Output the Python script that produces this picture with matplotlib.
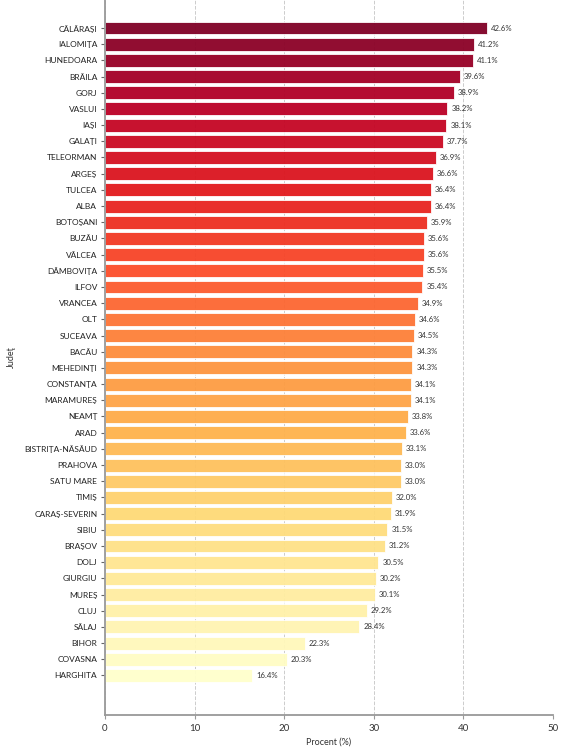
import numpy as np
import matplotlib
matplotlib.use("Agg")
import matplotlib.pyplot as plt

plt.rcParams['font.family'] = ['Lato', 'DejaVu Sans']

judete = [
    "CĂLĂRAŞI", "IALOMIŢA", "HUNEDOARA", "BRĂILA", "GORJ", "VASLUI", "IAŞI",
    "GALAŢI", "TELEORMAN", "ARGEŞ", "TULCEA", "ALBA", "BOTOŞANI", "BUZĂU",
    "VÂLCEA", "DÂMBOVIŢA", "ILFOV", "VRANCEA", "OLT", "SUCEAVA", "BACĂU",
    "MEHEDINŢI", "CONSTANŢA", "MARAMUREŞ", "NEAMŢ", "ARAD", "BISTRIŢA-NĂSĂUD",
    "PRAHOVA", "SATU MARE", "TIMIŞ", "CARAŞ-SEVERIN", "SIBIU", "BRAŞOV",
    "DOLJ", "GIURGIU", "MUREŞ", "CLUJ", "SĂLAJ", "BIHOR", "COVASNA", "HARGHITA",
]
procente = [
    42.6, 41.2, 41.1, 39.6, 38.9, 38.2, 38.1, 37.7, 36.9, 36.6, 36.4, 36.4,
    35.9, 35.6, 35.6, 35.5, 35.4, 34.9, 34.6, 34.5, 34.3, 34.3, 34.1, 34.1,
    33.8, 33.6, 33.1, 33.0, 33.0, 32.0, 31.9, 31.5, 31.2, 30.5, 30.2, 30.1,
    29.2, 28.4, 22.3, 20.3, 16.4,
]

n = len(judete)
y = np.arange(n)
colors = plt.cm.YlOrRd(np.linspace(1.0, 0.0, n))

fig = plt.figure(figsize=(5.69, 7.5), dpi=100)
ax = fig.add_axes([0.1845, 0.0467, 0.7875, 0.9533])

ax.barh(y, procente, height=0.8, color=colors, alpha=0.95,
        edgecolor='white', linewidth=0.6, zorder=2)
for yi, v in zip(y, procente):
    ax.text(v + 0.45, yi, f"{v:.1f}%", va='center', ha='left',
            fontsize=5.6, color='#333333')

ax.set_ylim(42.44, -1.73)
ax.set_xlim(0, 50)
ax.set_yticks(y)
ax.set_yticklabels(judete, fontsize=6.0, color='#222222')
ax.set_xticks([0, 10, 20, 30, 40, 50])
ax.tick_params(axis='x', labelsize=7, colors='#333333', length=3, color='#999999')
ax.tick_params(axis='y', length=3, color='#666666', pad=2.5)
ax.grid(axis='x', linestyle='--', color='#cccccc', linewidth=0.7, zorder=1)
ax.set_axisbelow(True)

for s in ['top', 'right']:
    ax.spines[s].set_visible(False)
for s in ['left', 'bottom']:
    ax.spines[s].set_color('#999999')
    ax.spines[s].set_linewidth(1.3)

ax.set_xlabel("Procent (%)", fontsize=6.5, color='#333333', labelpad=3)
ax.set_ylabel("Judeţ", fontsize=6.5, color='#333333', labelpad=6)

fig.savefig("out.png", dpi=100)
